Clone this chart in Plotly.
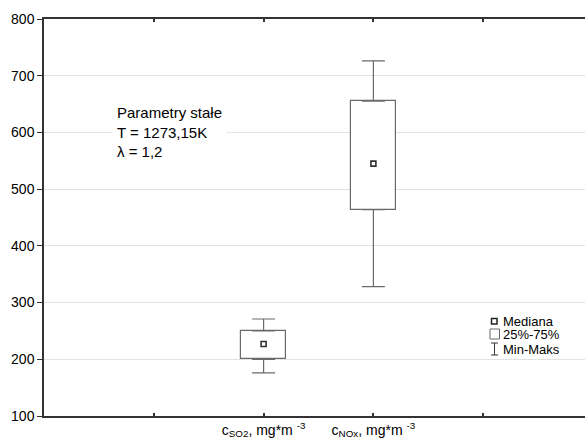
import plotly.graph_objects as go

# ---- data ----
categories = ["c<sub>SO2</sub>, mg*m <sup>-3</sup>", "c<sub>NOx</sub>, mg*m <sup>-3</sup>"]
minimum = [176, 328]
q1 = [200, 464]
median = [227, 545]
q3 = [250, 655]
maximum = [271, 726]
y_ticks = [100, 200, 300, 400, 500, 600, 700, 800]
legend_labels = ["Mediana", "25%-75%", "Min-Maks"]
note_lines = ["Parametry stałe", "T = 1273,15K", "λ = 1,2"]

FONT = "Liberation Sans, Arial, sans-serif"
BOXCOL = "#6a6a6a"

xpos = [i + 2 for i in range(len(categories))]
all_ticks = [1] + xpos + [xpos[-1] + 1]
all_text = [""] + categories + [""]

fig = go.Figure()

# 25%-75% box
fig.add_trace(go.Bar(
    x=xpos, base=q1, y=[b - a for a, b in zip(q1, q3)],
    width=0.41, marker=dict(color="white", line=dict(color=BOXCOL, width=1.2)),
    showlegend=False, hoverinfo="skip"))

# upper whisker (q3 -> max)
fig.add_trace(go.Scatter(
    x=xpos, y=q3, mode="markers", marker=dict(size=1, color="rgba(0,0,0,0)"),
    error_y=dict(type="data", array=[m - t for m, t in zip(maximum, q3)],
                 arrayminus=[0] * len(xpos), width=11.5, thickness=1.2, color=BOXCOL),
    showlegend=False, hoverinfo="skip"))
# lower whisker (min -> q1)
fig.add_trace(go.Scatter(
    x=xpos, y=q1, mode="markers", marker=dict(size=1, color="rgba(0,0,0,0)"),
    error_y=dict(type="data", array=[0] * len(xpos),
                 arrayminus=[b - m for m, b in zip(minimum, q1)], width=11.5, thickness=1.2, color=BOXCOL),
    showlegend=False, hoverinfo="skip"))

# median
fig.add_trace(go.Scatter(
    x=xpos, y=median, mode="markers",
    marker=dict(symbol="square-open", size=5, color="#333333", line=dict(width=1.6, color="#333333")),
    showlegend=False))

L, R, T, B = 44, 0, 19, 25
W, H = 585, 441
pw, ph = W - L - R, H - T - B
unit = 109.8
xmax = pw / unit


def px(xp):
    return (xp - L) / pw


def py(yp):
    return (H - B - yp) / ph


# note text with white background
fig.add_annotation(
    x=px(112), y=py(132), xref="paper", yref="paper", xanchor="left", yanchor="middle",
    text="<br>".join(note_lines), align="left", showarrow=False,
    font=dict(family=FONT, size=15, color="#000"), bgcolor="white", borderpad=4)

# legend texts
legend_y = [321, 334, 349]
for lab, yy in zip(legend_labels, legend_y):
    fig.add_annotation(x=px(501.5), y=py(yy), xref="paper", yref="paper", xanchor="left",
                       yanchor="middle", text=lab, showarrow=False,
                       font=dict(family=FONT, size=13, color="#000"), borderpad=0)

# legend symbols
shapes = [
    dict(type="rect", xref="paper", yref="paper", x0=px(491.5), x1=px(497), y0=py(318.5), y1=py(324),
         line=dict(color="#222", width=1.5)),
    dict(type="rect", xref="paper", yref="paper", x0=px(490), x1=px(499.5), y0=py(329), y1=py(339),
         line=dict(color=BOXCOL, width=1)),
    dict(type="line", xref="paper", yref="paper", x0=px(494.5), x1=px(494.5), y0=py(343), y1=py(355),
         line=dict(color="#333", width=1)),
    dict(type="line", xref="paper", yref="paper", x0=px(491), x1=px(498), y0=py(343), y1=py(343),
         line=dict(color="#333", width=1)),
    dict(type="line", xref="paper", yref="paper", x0=px(491), x1=px(498), y0=py(355), y1=py(355),
         line=dict(color="#333", width=1)),
]

fig.update_layout(
    width=W, height=H, margin=dict(l=L, r=R, t=T, b=B, pad=0),
    paper_bgcolor="white", plot_bgcolor="white",
    font=dict(family=FONT, size=14, color="#000"),
    shapes=shapes, showlegend=False, bargap=0,
    xaxis=dict(range=[0, xmax], tickvals=all_ticks, ticktext=all_text, ticks="inside",
               ticklen=3, tickwidth=1.5, tickcolor="#333", showgrid=False, zeroline=False,
               showline=True, linecolor="#333", linewidth=1.5, mirror="ticks",
               tickfont=dict(family=FONT, size=14, color="#000")),
    yaxis=dict(range=[100, 800], tickvals=y_ticks, ticks="outside", ticklen=5, tickwidth=1,
               tickcolor="#333", showgrid=True, gridcolor="#e2e2e2", gridwidth=1, zeroline=False,
               showline=True, linecolor="#333", linewidth=1.5, mirror=False,
               tickfont=dict(family=FONT, size=14, color="#000")),
)

fig.write_html("out.html", config={"displayModeBar": False},
               post_script="document.body.style.margin='0';document.body.style.overflow='hidden';")
